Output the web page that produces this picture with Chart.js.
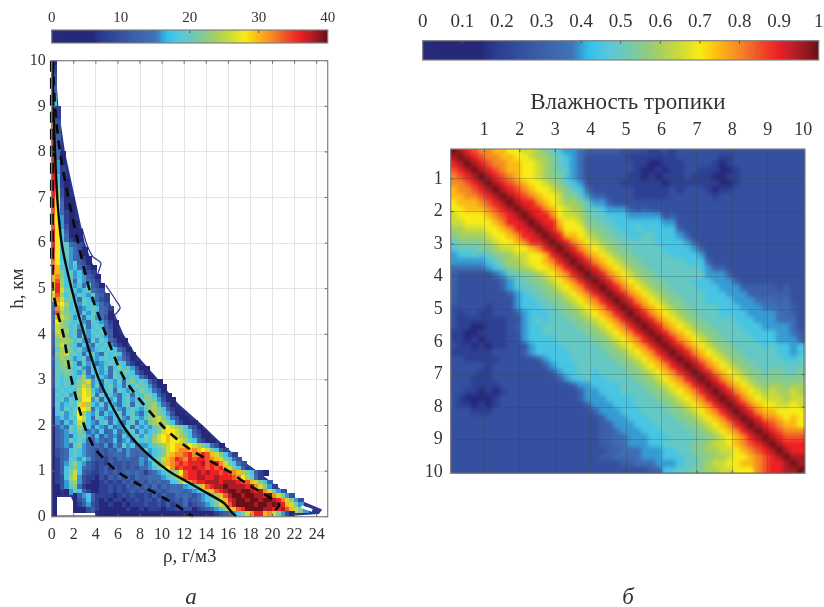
<!DOCTYPE html>
<html lang="ru">
<head>
<meta charset="utf-8">
<title>Влажность тропики</title>
<script src="https://cdn.jsdelivr.net/npm/chart.js@4/dist/chart.umd.js"></script>
<style>
html,body{margin:0;padding:0;background:#fff;width:824px;height:607px;overflow:hidden}
canvas{position:absolute;left:0;top:0}
.cap{position:absolute;font:italic 23px "Liberation Serif",serif;color:#333;transform:translate(-50%,-50%)}
</style>
</head>
<body>
<canvas id="dens" width="824" height="607"></canvas>
<canvas id="cbL" width="824" height="607"></canvas>
<canvas id="cbR" width="824" height="607"></canvas>
<canvas id="hmSharp" width="824" height="607"></canvas>
<canvas id="hmBlur" width="824" height="607"></canvas>
<canvas id="hmAxes" width="824" height="607"></canvas>
<div class="cap" style="left:191px;top:597px">а</div>
<div class="cap" style="left:628px;top:597px">б</div>
<script>
// ---------- values ----------
const rhoTicks = [0,2,4,6,8,10,12,14,16,18,20,22,24];
const heightTicks = [0,1,2,3,4,5,6,7,8,9,10];
const matrixTicks = [1,2,3,4,5,6,7,8,9,10];
const densityBarTicks = [0,10,20,30,40];
const corrBarTicks = [0,0.1,0.2,0.3,0.4,0.5,0.6,0.7,0.8,0.9,1];

const meanH   = [10,9,8,7,6,5,4,3,2,1.5,1,0.75,0.5,0.3,0.1,0];
const meanRho = [0.05,0.15,0.3,0.5,0.9,1.8,2.95,4.3,6.45,8.15,10.6,12.4,14.2,15.6,16.3,16.7];
const upperH   = [10,9,8,7,6,5,4,3,2,1.5,1,0.75,0.5,0.35,0.25,0.15,0];
const upperRho = [0.1,0.3,0.75,1.5,2.4,3.4,4.9,6.65,10,12.4,16,17.5,19.2,20.2,20.6,20.3,20.1];
const lowerH   = [5.5,5,4.5,4,3,2,1.5,1,0.75,0.5,0.25,0];
const lowerRho = [0.08,0.1,0.5,1.05,1.8,2.95,3.9,5.9,7.55,9.5,11.3,12.8];
const edgeDashH   = [10,8,6,5.5];
const edgeDashRho = [0.02,0.02,0.02,0.04];
const outlineAH   = [6.33,5.96,5.7,5.56,5.34,5.08];
const outlineARho = [2.74,3.2,3.74,4.46,4.2,4.37];
const outlineBH   = [5.08,4.75,4.58,4.42];
const outlineBRho = [4.9,5.8,6.2,5.7];
const envelopeRho = [0,0.3,0.6,1.2,2.1,3,3.6,4.2,5,5.6,6.5,7.5,8.6,9.7,11,11.6,13.7,15,16.6,18.6,21.3,23.1,24.5,24.2,21.8,0];
const envelopeH   = [10,10,9,8,7,6,5.6,5.3,4.85,4.5,4,3.6,3.3,3,2.6,2.45,2,1.7,1.35,1,0.5,0.3,0.16,0.06,0.02,0.02];
const holeRho = [0.45,1.75,2,2.4,4,6,0.45];
const holeH   = [0.43,0.43,0.3,0.17,0.08,0.03,0.03];
const spurHoleRho = [22.6,23.6];
const spurHoleH   = [0.22,0.14];

// density rows, top (h = 9.95 km) to bottom (h = 0.05 km), one char per 0.4 g/m3 bin.
// '.' = empty, 1..9 a..k = count / 2
const densityRows = [
"3","4","4","5","5","6","6","7","8","9",
"a4","b4","d4","f5","g5","h5","h6","i6","i6","i7",
"i73","i73","i83","i84","i84","i94","i942","ia42","ib52","ic52",
"hd632","hd732","he732","he742","ge842","ge8431","he8531","ie96321","ie97321","ie97431",
"ie9a765","ie9a8753","he9a8763","he9a87642","gea98a653","hf9a897642","gfb9a89754","fgb9a898653","fhc9a7a8764","fic9a8979652",
"eidaa989a765","dhc9b8a98a764","dgdaa97a98754","7fec9a8a9a875","7gdb9a789a9764","6hcba97a8a9763","7fdca8979a8753","6ecba9a87a98742","7dcb9a8a79a9752","6dcc9a798a9a763",
"6cdb9a7a89a98632","6bccb9a87a8a97532","6bdba97987a9a8642","5acbb9a8789a9a9753","5bcdaa979a87a9a9642","6acba89a7989a9b8753","5abcb97a89789a9a9642","5abba9a87a98a79b9a8532","5aaba98a79a897a9ba9642","5a9ab9ac87a987a9a9a9753",
"5a9aa9bcd897a98a7ab9a9642","5a9a9abdc8a79a897a9baa8532","49a9a9ced9879a7a98a9ba9753","4a9a8acedb7a89879a7a9bb9642","49a8a9bee8a798a79a89abba8532","4a89a9dfc98a79879a7a9abc9753","398a9aeed79879a879a98abcb9642","39a89bec98a7989a79a879bcba8532","3898a9ed97a9879a87a98abcdb97532","38798adc9879a79879a798bcdcb964312",
"3687a9cb979879789a79898abcedcb9753","3678a9b97879679789a7989abdeedca9642","367879ab87968786a89a8a9bdefedcb97532","3678a9a976876796897a9a9cdefeedca96421",
"36787ab876768587a897889abcdefffedcb9753","35679a987656576868777a89abdefggfgfedb964","35679a987656567768767789abdfgghiggihfdb974","3467a98a865546576766879abdfgihgihiihgfdb975","3468ac98654546556566868a9cfghihiiijhiigdb975","3469ab976545646565657789bcegihiijiihihifdb964",
"3469bd96544565656767646789abcehiijijiihihgfcb9642","2459cd854435465656576677789acfhiijjiijiiihgeca74","2458bc8543345454656565767679aceghiijjjijjjihhfdb96","2358ab74332445454656565757677789acfhijjkjjjjijgdb84","23.38a9643344545456565656567776789acfhijkkjkkjijgdb85",
"2....3689644443454544546465576765789acfhjkkjkkjjikgdb85","2....2579643434434454554646565756789abdfijkkjkkjkkjigdb85","2....14685433433434445445464557456789bdfhjkkkkjkkjkjifdb8","2....1335643333334334344434454553456789bdfhikkkkjjiijhfdb8","2.........123222322323232323333333333456789bdgiifgdb852"
];

// lower triangle of the symmetric correlation matrix, 0.2 km bins; value = char / 20,
// each row runs from column 0 up to the diagonal and is aligned on the diagonal
const corrRows = [
"k","jk","ijk","hijk","ghijk","gghijk","fgghijk","ffgghijk","efffghijk","eefffghijk",
"deeeefghijk","ddeeeefgiijk","ccdddeefgiijk","bccccdeefgiijk","abbbbcdeefgiijk","9aaabbcddeefgijk","899a9abbcddeefijk","888889abccdeefgijk","7777789abccdeefgijk","65555578aabbcdefgijk",
"655555568aabbcdefgijk","6555555689aabbcdefgijk","65555555689aabbcdefgijk","655555555899aabbcdefgijk","5555545558999aabbcdefgijk",
"54554455568999aabbcdefgijk","544444445589a9aaabbcdefgijk","5443344456899aaaaabbcdefgijk","54433444455899aaaaaabbcdefgijk","5443434445589999aaaaabbcdefgijk",
"5443434455589999aaaaabbcdefgijk","544444455556899999aaaaabbcdefgijk","5444445555568999aaaaaabbcdefgijk","55554555555568999aaaaaabbcdefgijk","55544555555556899aa9aaaabbcdefgijk",
"554445555555556899a99aaaabbcdefgijk","55444455555555556889999aaabbcdefgijk","54434345555555555688999aaaabbcdefgijk","54333345555555555568889999aaabbcdefgijk","54434345555555555556888999aaaabbcdefgijk",
"55444555555555555556888999aaaabbcdefgijk","5555555555555555555556888999aaaabbcdefgijk","55555555555555555555566888999aaaabbcdefgijk","555555555555555555555667888999aaaabbcdefgijk","5555555555555555555556677888999aaaabbcdefgijk",
"5555555555555555555555566778889 9aaaabbcddefghijk".replace(" ",""),"55555555555555555555555667778889 9aabbccddefghijk".replace(" ",""),"555555555555555555555556677778 88999aabbccdeefghijk".replace(" ",""),"5555555555555555555555556677 78889aabcddeeffghiijk".replace(" ",""),"55555555555555555555555555556 699aabbccddeeeghiijjk".replace(" ","")
];

// colour ramp of the printed bars (position, colour)
const rampPos = [0,0.15,0.18,0.3,0.38,0.42,0.47,0.52,0.6,0.66,0.7,0.74,0.8,0.85,0.9,0.95,1];
const rampCol = ["#262a78","#26287a","#2a3a90","#3c5fa8","#3f74b8","#2fc0ee","#58c8dc","#70c8b0","#a6cf60","#d5dd30","#f7ec17","#fdc210","#f58a25","#f0522a","#ed2024","#ab1d25","#6c1015"];

// ---------- helpers ----------
const SERIF = '"Liberation Serif","Times New Roman",serif';
const TEXT = '#333333';
const hex = h => [1,3,5].map(i => parseInt(h.substr(i,2),16));
function ramp(t){
  t = Math.max(0,Math.min(1,t));
  let i = 0;
  while(i < rampPos.length-2 && t > rampPos[i+1]) i++;
  const f = (t-rampPos[i])/(rampPos[i+1]-rampPos[i]);
  const a = hex(rampCol[i]), b = hex(rampCol[i+1]);
  return 'rgb('+a.map((v,k)=>Math.round(v+(b[k]-v)*f)).join(',')+')';
}
const swatches = new Map();
function swatch(color,w,h){
  const key = color+'|'+w+'|'+h;
  if(!swatches.has(key)){
    const c = document.createElement('canvas');
    c.width = w; c.height = h;
    const g = c.getContext('2d'); g.fillStyle = color; g.fillRect(0,0,w,h);
    swatches.set(key,c);
  }
  return swatches.get(key);
}
function cellDataset(data,stepX,stepY){
  return {
    type:'scatter', data, clip:0, order:5, showLine:false,
    pointRadius:1, pointBorderWidth:0, pointHoverRadius:1,
    pointStyle:ctx=>{
      const c = ctx.chart, sx = c.scales.x, sy = c.scales.y;
      const w = Math.ceil(Math.abs(sx.getPixelForValue(sx.min+stepX)-sx.getPixelForValue(sx.min)))+1;
      const h = Math.ceil(Math.abs(sy.getPixelForValue(sy.min+stepY)-sy.getPixelForValue(sy.min)))+1;
      return swatch(ramp(ctx.raw ? ctx.raw.t : 0),w,h);
    }
  };
}
function lineDataset(xs,ys,color,width,dash,tension){
  return {type:'scatter',data:xs.map((x,i)=>({x,y:ys[i]})),showLine:true,borderColor:color,backgroundColor:color,
    borderWidth:width,borderDash:dash||[],pointRadius:0,tension:tension===undefined?0.25:tension,clip:false,order:1};
}
// filled outlines that sit underneath the cells: placed by the scales
const shapePlugin = {
  id:'shapes',
  beforeDatasetsDraw(chart,args,o){
    if(!o.list) return;
    const {ctx,chartArea:a,scales:{x,y}} = chart;
    ctx.save();
    ctx.beginPath();ctx.rect(a.left,a.top,a.right-a.left,a.bottom-a.top);ctx.clip();
    o.list.forEach(s=>{
      ctx.fillStyle = s.color;
      ctx.beginPath();
      s.xs.forEach((v,i)=>{
        const px = x.getPixelForValue(v), py = y.getPixelForValue(s.ys[i]);
        if(i) ctx.lineTo(px,py); else ctx.moveTo(px,py);
      });
      ctx.closePath();ctx.fill();
    });
    ctx.restore();
  }
};
const framePlugin = {
  id:'frame',
  afterDraw(chart,args,o){
    if(!o.show) return;
    const {ctx,chartArea:a,scales} = chart;
    ctx.save();
    ctx.strokeStyle = o.color; ctx.lineWidth = 1;
    ctx.beginPath();
    for(const t of scales.x.ticks){
      const p = scales.x.getPixelForValue(t.value);
      if(o.top){ctx.moveTo(p,a.top);ctx.lineTo(p,a.top+o.len);}
      if(o.bottom){ctx.moveTo(p,a.bottom);ctx.lineTo(p,a.bottom-o.len);}
    }
    if(o.sides) for(const t of scales.y.ticks){
      const p = scales.y.getPixelForValue(t.value);
      ctx.moveTo(a.left,p);ctx.lineTo(a.left+o.len,p);
      ctx.moveTo(a.right,p);ctx.lineTo(a.right-o.len,p);
    }
    ctx.stroke();
    ctx.lineWidth = o.width; ctx.strokeStyle = o.border;
    ctx.strokeRect(a.left,a.top,a.right-a.left,a.bottom-a.top);
    ctx.restore();
  }
};
function axis(base,area,isX,isTop){
  const fit = s=>{
    if(isX) s.height = isTop ? area.t-area.pt : (607-area.pb)-area.b;
    else s.width = area.l-area.pl;
    s.paddingLeft=s.paddingRight=s.paddingTop=s.paddingBottom=0;
  };
  return Object.assign({afterFit:fit},base);
}
function fixedTicks(values){
  return s=>{ s.ticks = values.map(v=>({value:v})); };
}
function tickOpts(size,pad){
  return {autoSkip:false,maxRotation:0,minRotation:0,padding:pad,color:TEXT,font:{family:SERIF,size},callback:v=>String(v)};
}
function build(id,area,xScale,yScale,datasets,frame,shapes){
  return new Chart(document.getElementById(id),{
    type:'scatter',
    data:{datasets},
    plugins:[framePlugin,shapePlugin],
    options:{
      responsive:false,animation:false,events:[],devicePixelRatio:1,
      layout:{padding:{left:area.pl,top:area.pt,right:824-area.r,bottom:area.pb}},
      plugins:{legend:{display:false},tooltip:{enabled:false},frame:frame||{show:false},shapes:{list:shapes||null}},
      scales:{x:xScale,y:yScale}
    }
  });
}
const noAxis = (min,max,area,isX,reverse)=>axis({type:'linear',display:false,min,max,reverse:!!reverse},area,isX,false);

// ---------- left panel: density ----------
const densArea = {l:51.7,r:327.7,t:60.7,b:516.7,pl:7,pt:60.7,pb:39};
const densCells = [];
densityRows.forEach((row,r)=>{
  for(let j=0;j<row.length;j++){
    if(row[j]==='.') continue;
    densCells.push({x:0.4*j+0.2,y:9.95-0.1*r,t:parseInt(row[j],36)/20});
  }
});
const lightGrid = {color:'#e4e4e4',lineWidth:1,drawTicks:false};
build('dens',densArea,
  axis({type:'linear',position:'bottom',min:0,max:25,afterBuildTicks:fixedTicks(rhoTicks),
    grid:lightGrid,border:{display:false},ticks:tickOpts(16,8),
    title:{display:true,text:'ρ, г/м3',color:TEXT,font:{family:SERIF,size:19},padding:0}},densArea,true,false),
  axis({type:'linear',position:'left',min:0,max:10,afterBuildTicks:fixedTicks(heightTicks),
    grid:lightGrid,border:{display:false},ticks:tickOpts(16,6),
    title:{display:true,text:'h, км',color:TEXT,font:{family:SERIF,size:19},padding:0}},densArea,false,false),
  [
    cellDataset(densCells,0.4,0.1),
    lineDataset(spurHoleRho,spurHoleH,'#ffffff',3,[],0),
    lineDataset(outlineARho,outlineAH,'#2b2f8f',1.2),
    lineDataset(outlineBRho,outlineBH,'#2b2f8f',1.2),
    lineDataset(meanRho,meanH,'#0a0a0a',2.4),
    lineDataset(upperRho,upperH,'#0a0a0a',2.6,[9,7]),
    lineDataset(lowerRho,lowerH,'#0a0a0a',2.6,[9,7]),
    lineDataset(edgeDashRho,edgeDashH,'#0a0a0a',4,[11,6],0)
  ],
  {show:true,top:true,bottom:true,sides:true,len:3,color:'#666',border:'#808080',width:1.2},
  [{xs:envelopeRho,ys:envelopeH,color:'#2b348c'},{xs:holeRho,ys:holeH,color:'#ffffff'}]
).canvas.style.filter='blur(0.7px)';

// ---------- colour bars ----------
function colorBar(id,area,max,ticks,size,pad){
  const steps = 160, cells = [];
  for(let i=0;i<steps;i++) cells.push({x:(i+0.5)/steps*max,y:0.5,t:(i+0.5)/steps});
  build(id,area,
    axis({type:'linear',position:'top',min:0,max,afterBuildTicks:fixedTicks(ticks),
      grid:{display:false,drawTicks:false},border:{display:false},ticks:tickOpts(size,pad)},area,true,true),
    noAxis(0,1,area,false),
    [cellDataset(cells,max/steps,1)],
    {show:true,top:true,bottom:false,sides:false,len:3,color:'#555',border:'#808080',width:1.2}
  ).canvas.style.filter='blur(0.35px)';
}
colorBar('cbL',{l:51.7,r:327.7,t:30,b:43,pl:51.7,pt:2,pb:564},40,densityBarTicks,15,3);
colorBar('cbR',{l:422.7,r:818.7,t:40.7,b:60,pl:422.7,pt:2,pb:547},1,corrBarTicks,19,7);

// ---------- right panel: correlation matrix ----------
const matArea = {l:450.7,r:805,t:149,b:473.3,pl:405,pt:89,pb:133.7};
const heatArea = {l:450.7,r:805,t:149,b:473.3,pl:450.7,pt:149,pb:133.7};
const corrCells = [];
for(let i=0;i<50;i++){
  for(let j=0;j<50;j++){
    const row = corrRows[Math.max(i,j)], ch = row[row.length-1-Math.abs(i-j)] || '5';
    corrCells.push({x:0.15+0.2*j,y:0.15+0.2*i,t:parseInt(ch,36)/20});
  }
}
['hmSharp','hmBlur'].forEach(id=>{
  build(id,heatArea,noAxis(0.05,10.05,heatArea,true),noAxis(0.08,10.03,heatArea,false,true),
    [cellDataset(corrCells,0.2,0.2)],
    {show:false});
});
const blurCanvas = document.getElementById('hmBlur');
blurCanvas.style.filter = 'blur(2px)';
blurCanvas.style.clipPath = 'inset(149px 19px 133.7px 450.7px)';
const hmGrid = {color:'rgba(50,60,60,0.26)',lineWidth:1,drawTicks:false};
build('hmAxes',matArea,
  axis({type:'linear',position:'top',min:0.05,max:10.05,afterBuildTicks:fixedTicks(matrixTicks),
    grid:hmGrid,border:{display:false},ticks:tickOpts(18,8),
    title:{display:true,text:'Влажность тропики',color:TEXT,font:{family:SERIF,size:23},padding:0}},matArea,true,true),
  axis({type:'linear',position:'left',min:0.08,max:10.03,reverse:true,afterBuildTicks:fixedTicks(matrixTicks),
    grid:hmGrid,border:{display:false},ticks:tickOpts(18,8)},matArea,false,false),
  [],
  {show:true,top:true,bottom:true,sides:true,len:3,color:'#555',border:'#808080',width:1.2}
);
</script>
</body>
</html>
